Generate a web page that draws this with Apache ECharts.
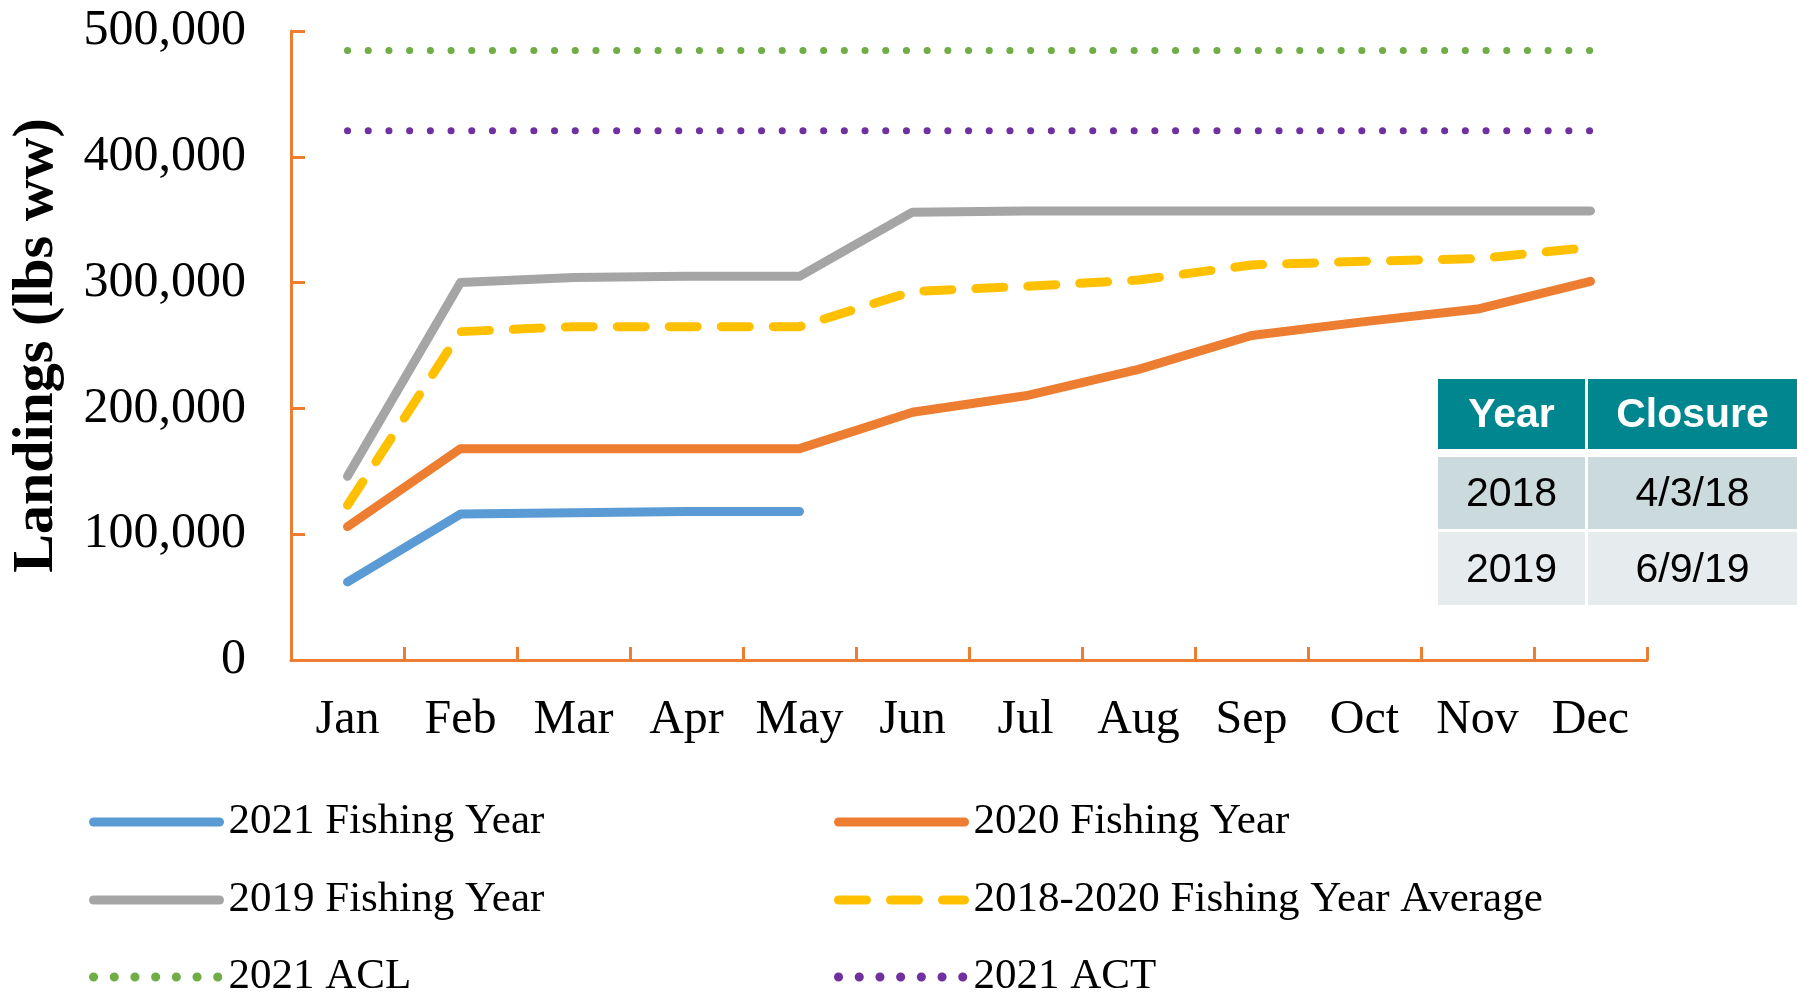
<!DOCTYPE html>
<html>
<head>
<meta charset="utf-8">
<script src="https://cdn.jsdelivr.net/npm/echarts@6/dist/echarts.min.js"></script>
<style>
  html, body { margin: 0; padding: 0; background: #fff; }
  #main { width: 1797px; height: 993px; }
</style>
</head>
<body>
<div id="main"></div>
<script>
// month categories
var months = ['Jan', 'Feb', 'Mar', 'Apr', 'May', 'Jun', 'Jul', 'Aug', 'Sep', 'Oct', 'Nov', 'Dec'];

// cumulative landings (lbs ww)
var fy2021 = [62000, 116000, 117000, 118000, 118000];
var fy2020 = [106000, 168000, 168000, 168000, 168000, 197000, 210000, 231000, 258000, 269000, 279000, 301000];
var fy2019 = [146000, 300000, 304000, 305000, 305000, 356000, 357000, 357000, 357000, 357000, 357000, 357000];
var fyAvg = [123000, 261000, 265000, 265000, 265000, 293000, 297000, 302000, 314000, 317000, 319000, 328000];
var acl2021 = [484500, 484500, 484500, 484500, 484500, 484500, 484500, 484500, 484500, 484500, 484500, 484500];
var act2021 = [420800, 420800, 420800, 420800, 420800, 420800, 420800, 420800, 420800, 420800, 420800, 420800];

// closure table
var tableHead = ['Year', 'Closure'];
var closureYears = ['2018', '2019'];
var closureDates = ['4/3/18', '6/9/19'];

var serif = 'Liberation Serif';
var sans = 'Liberation Sans';
var axisOrange = '#ED7D31';

var chart = echarts.init(document.getElementById('main'));

// table drawn as graphic rects + texts
var colX = [1438, 1588];
var colW = [147, 209];
var rowY = [379, 457, 532];
var rowH = [70, 72, 73];
var rowFill = ['#00868F', '#CBDBDD', '#E6ECED'];
var tableRows = [tableHead];
for (var i = 0; i < closureYears.length; i++) {
    tableRows.push([closureYears[i], closureDates[i]]);
}
var graphics = [];
tableRows.forEach(function (row, r) {
    row.forEach(function (cell, c) {
        graphics.push({
            type: 'rect',
            shape: { x: colX[c], y: rowY[r], width: colW[c], height: rowH[r] },
            style: { fill: rowFill[r] },
            z: 10
        });
        graphics.push({
            type: 'text',
            x: colX[c] + colW[c] / 2,
            y: rowY[r] + rowH[r] / 2 + 2,
            style: {
                text: cell,
                fill: r === 0 ? '#fff' : '#000',
                font: (r === 0 ? 'bold ' : '') + '41px ' + sans,
                align: 'center',
                verticalAlign: 'middle'
            },
            z: 11
        });
    });
});

// one legend per entry, laid out in two columns x three rows
var legendNames = [
    ['2021 Fishing Year', '2020 Fishing Year'],
    ['2019 Fishing Year', '2018-2020 Fishing Year Average'],
    ['2021 ACL', '2021 ACT']
];
var legendCols = [89, 834];
var legendRows = [822, 900, 977];
var legends = [];
legendNames.forEach(function (row, r) {
    row.forEach(function (name, c) {
        legends.push({
            left: legendCols[c], top: legendRows[r] - 22, padding: 0,
            itemWidth: 126, itemHeight: 10, itemGap: 0,
            textStyle: { fontFamily: serif, fontSize: 43, color: '#000', lineHeight: 44, padding: [0, 0, 0, 4] },
            itemStyle: { opacity: 0 },
            lineStyle: { width: 9 },
            data: [name]
        });
    });
});

chart.setOption({
    animation: false,
    grid: { left: 291, right: 150, top: 31, bottom: 333, containLabel: false, outerBoundsMode: 'none' },
    legend: legends,
    xAxis: {
        type: 'category',
        data: months,
        boundaryGap: true,
        axisLine: { lineStyle: { color: axisOrange, width: 3 } },
        axisTick: { show: true, inside: true, interval: 0, length: 13, lineStyle: { color: axisOrange, width: 3 } },
        axisLabel: { interval: 0, color: '#000', fontFamily: serif, fontSize: 48, margin: 36 },
        splitLine: { show: false }
    },
    yAxis: {
        type: 'value',
        min: 0,
        max: 500000,
        interval: 100000,
        name: 'Landings (lbs ww)',
        nameLocation: 'middle',
        nameGap: 225,
        nameTextStyle: { color: '#000', fontFamily: serif, fontSize: 58, fontWeight: 'bold' },
        axisLine: { show: true, lineStyle: { color: axisOrange, width: 3 } },
        axisTick: { show: true, inside: true, length: 14, lineStyle: { color: axisOrange, width: 3 } },
        axisLabel: {
            color: '#000', fontFamily: serif, fontSize: 50, margin: 45,
            formatter: function (v) { return v.toLocaleString('en-US'); }
        },
        splitLine: { show: false }
    },
    series: [
        {
            name: '2021 ACL', type: 'line', data: acl2021, symbol: 'none', z: 2,
            color: '#70AD47',
            lineStyle: { color: '#70AD47', width: 7, type: [0.1, 20.6], cap: 'round' }
        },
        {
            name: '2021 ACT', type: 'line', data: act2021, symbol: 'none', z: 2,
            color: '#7030A0',
            lineStyle: { color: '#7030A0', width: 7, type: [0.1, 20.6], cap: 'round' }
        },
        {
            name: '2019 Fishing Year', type: 'line', data: fy2019, symbol: 'none', z: 3,
            color: '#A5A5A5',
            lineStyle: { color: '#A5A5A5', width: 9, cap: 'round', join: 'round' }
        },
        {
            name: '2018-2020 Fishing Year Average', type: 'line', data: fyAvg, symbol: 'none', z: 4,
            color: '#FFC000',
            lineStyle: { color: '#FFC000', width: 9, type: [28, 24], cap: 'round', join: 'round' }
        },
        {
            name: '2020 Fishing Year', type: 'line', data: fy2020, symbol: 'none', z: 5,
            color: '#ED7D31',
            lineStyle: { color: '#ED7D31', width: 9, cap: 'round', join: 'round' }
        },
        {
            name: '2021 Fishing Year', type: 'line', data: fy2021, symbol: 'none', z: 6,
            color: '#5B9BD5',
            lineStyle: { color: '#5B9BD5', width: 9, cap: 'round', join: 'round' }
        }
    ],
    graphic: graphics
});
</script>
</body>
</html>
